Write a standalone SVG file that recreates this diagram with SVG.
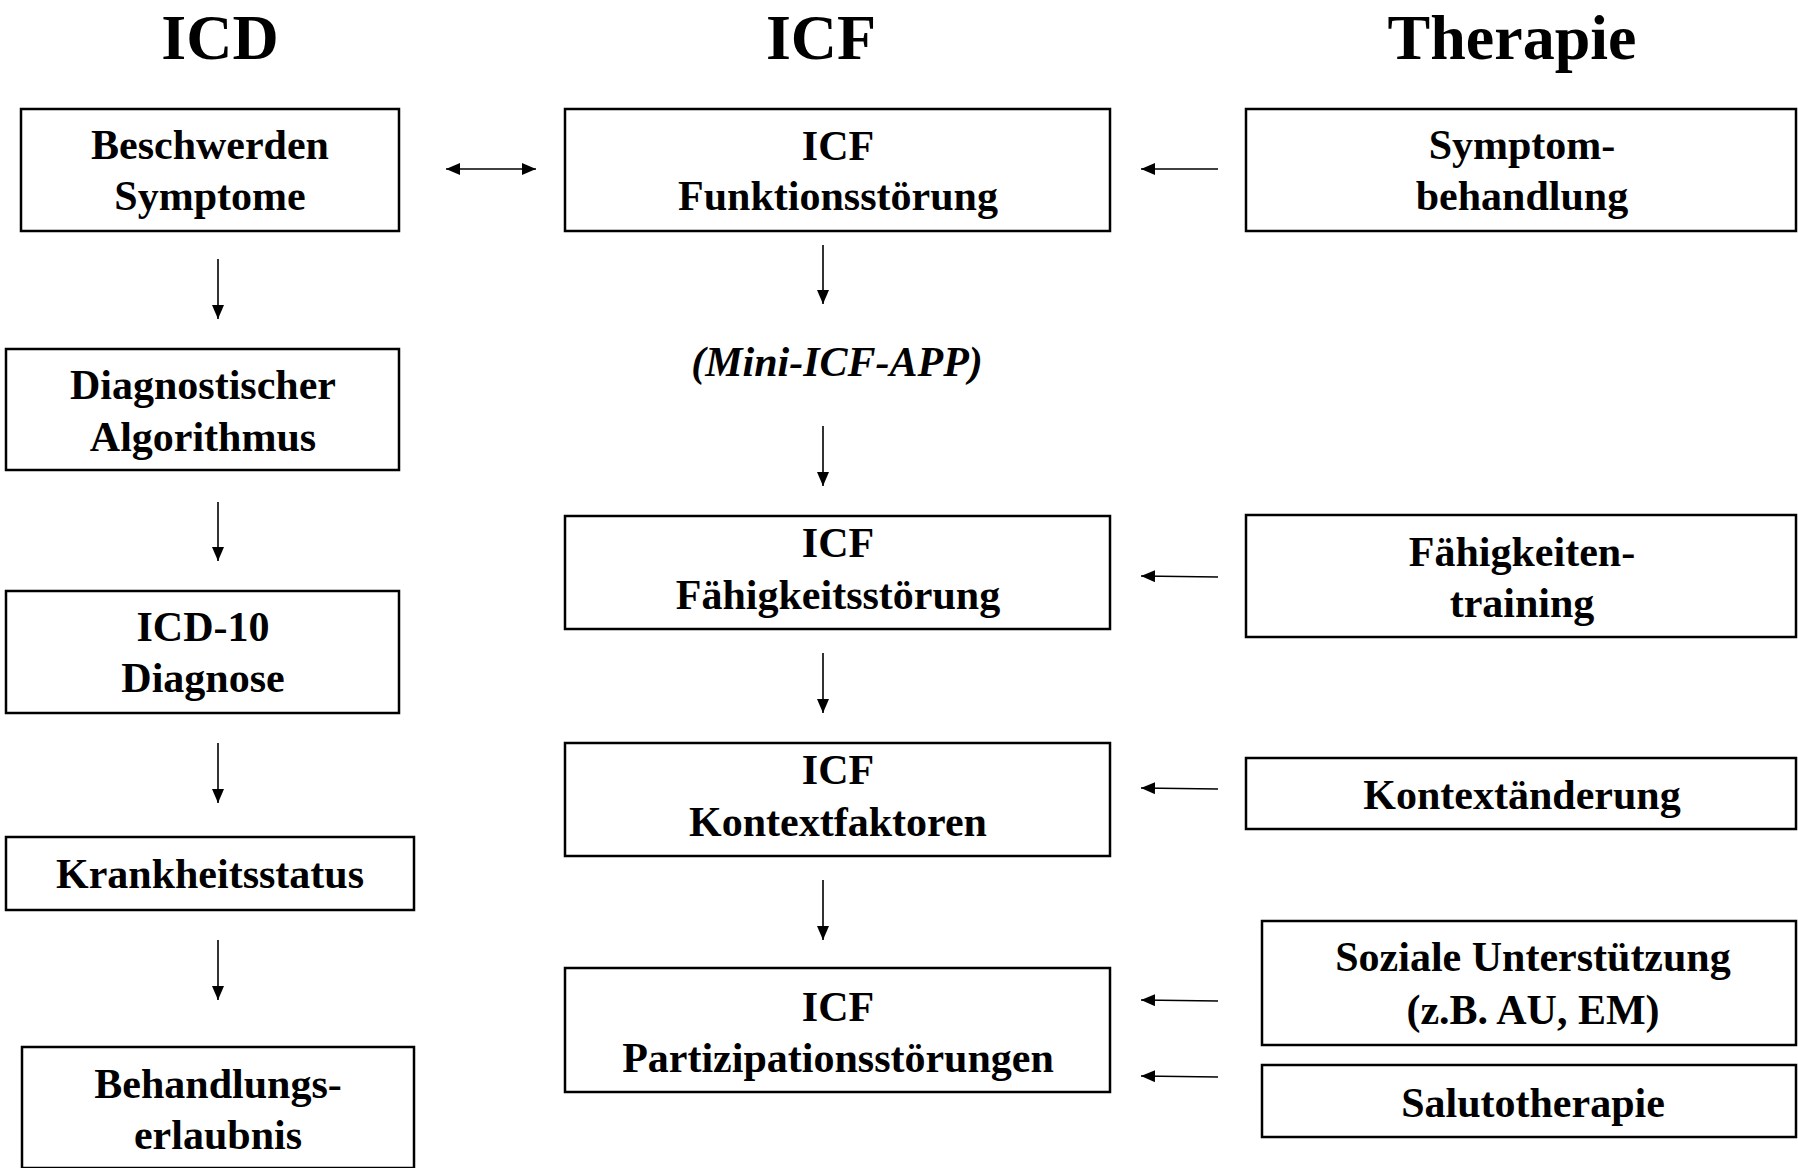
<svg xmlns="http://www.w3.org/2000/svg" width="1798" height="1168" viewBox="0 0 1798 1168">
<defs>
<style>
.box{fill:#fff;stroke:#000;stroke-width:2.5}
.t{font-family:"Liberation Serif","Times New Roman",serif;font-weight:bold;font-size:42px;text-anchor:middle;fill:#000}
.h{font-family:"Liberation Serif","Times New Roman",serif;font-weight:bold;font-size:64px;text-anchor:middle;fill:#000}
.i{font-style:italic}
.c{stroke:#000;stroke-width:1.6;fill:none;marker-end:url(#ah)}
</style>
<marker id="ah" viewBox="0 0 14 12" refX="14" refY="6" markerWidth="14" markerHeight="12" markerUnits="userSpaceOnUse" orient="auto-start-reverse">
<path d="M0,0 L14,6 L0,12 Z" fill="#000"/>
</marker>
</defs>
<rect width="1798" height="1168" fill="#fff"/>
<g id="titles">
<text class="h" x="220" y="59">ICD</text>
<text class="h" x="821" y="59">ICF</text>
<text class="h" x="1512" y="59">Therapie</text>
</g>
<g id="icd-beschwerden"><rect class="box" x="21" y="109" width="378" height="122"/><text class="t" x="210" y="159">Beschwerden</text><text class="t" x="210" y="210">Symptome</text></g>
<g id="icd-algorithmus"><rect class="box" x="6" y="349" width="393" height="121"/><text class="t" x="203" y="399">Diagnostischer</text><text class="t" x="203" y="451">Algorithmus</text></g>
<g id="icd-diagnose"><rect class="box" x="6" y="591" width="393" height="122"/><text class="t" x="203" y="641">ICD-10</text><text class="t" x="203" y="692">Diagnose</text></g>
<g id="icd-status"><rect class="box" x="6" y="837" width="408" height="73"/><text class="t" x="210" y="888">Krankheitsstatus</text></g>
<g id="icd-erlaubnis"><rect class="box" x="22" y="1047" width="392" height="121"/><text class="t" x="218" y="1098">Behandlungs-</text><text class="t" x="218" y="1149">erlaubnis</text></g>
<g id="icf-funktion"><rect class="box" x="565" y="109" width="545" height="122"/><text class="t" x="838" y="160">ICF</text><text class="t" x="838" y="210">Funktionsstörung</text></g>
<g id="icf-mini"><text class="t i" x="837" y="376">(Mini-ICF-APP)</text></g>
<g id="icf-faehigkeit"><rect class="box" x="565" y="516" width="545" height="113"/><text class="t" x="838" y="557">ICF</text><text class="t" x="838" y="609">Fähigkeitsstörung</text></g>
<g id="icf-kontext"><rect class="box" x="565" y="743" width="545" height="113"/><text class="t" x="838" y="784">ICF</text><text class="t" x="838" y="836">Kontextfaktoren</text></g>
<g id="icf-partizipation"><rect class="box" x="565" y="968" width="545" height="124"/><text class="t" x="838" y="1021">ICF</text><text class="t" x="838" y="1072">Partizipationsstörungen</text></g>
<g id="th-symptom"><rect class="box" x="1246" y="109" width="550" height="122"/><text class="t" x="1522" y="159">Symptom-</text><text class="t" x="1522" y="210">behandlung</text></g>
<g id="th-training"><rect class="box" x="1246" y="515" width="550" height="122"/><text class="t" x="1522" y="566">Fähigkeiten-</text><text class="t" x="1522" y="617">training</text></g>
<g id="th-kontext"><rect class="box" x="1246" y="758" width="550" height="71"/><text class="t" x="1522" y="809">Kontextänderung</text></g>
<g id="th-sozial"><rect class="box" x="1262" y="921" width="534" height="124"/><text class="t" x="1533" y="971">Soziale Unterstützung</text><text class="t" x="1533" y="1024">(z.B. AU, EM)</text></g>
<g id="th-saluto"><rect class="box" x="1262" y="1065" width="534" height="72"/><text class="t" x="1533" y="1117">Salutotherapie</text></g>
<g id="connectors">
<line class="c" x1="218" y1="259" x2="218" y2="319"/>
<line class="c" x1="218" y1="502" x2="218" y2="561"/>
<line class="c" x1="218" y1="743" x2="218" y2="803"/>
<line class="c" x1="218" y1="940" x2="218" y2="1000"/>
<line class="c" x1="823" y1="245" x2="823" y2="304"/>
<line class="c" x1="823" y1="426" x2="823" y2="486"/>
<line class="c" x1="823" y1="653" x2="823" y2="713"/>
<line class="c" x1="823" y1="880" x2="823" y2="940"/>
<line class="c" x1="446" y1="169" x2="536" y2="169" style="marker-start:url(#ah)"/>
<line class="c" x1="1218" y1="169" x2="1141" y2="169"/>
<line class="c" x1="1218" y1="577" x2="1141" y2="576"/>
<line class="c" x1="1218" y1="789" x2="1141" y2="788"/>
<line class="c" x1="1218" y1="1001" x2="1141" y2="1000"/>
<line class="c" x1="1218" y1="1077" x2="1141" y2="1076"/>
</g>
</svg>
